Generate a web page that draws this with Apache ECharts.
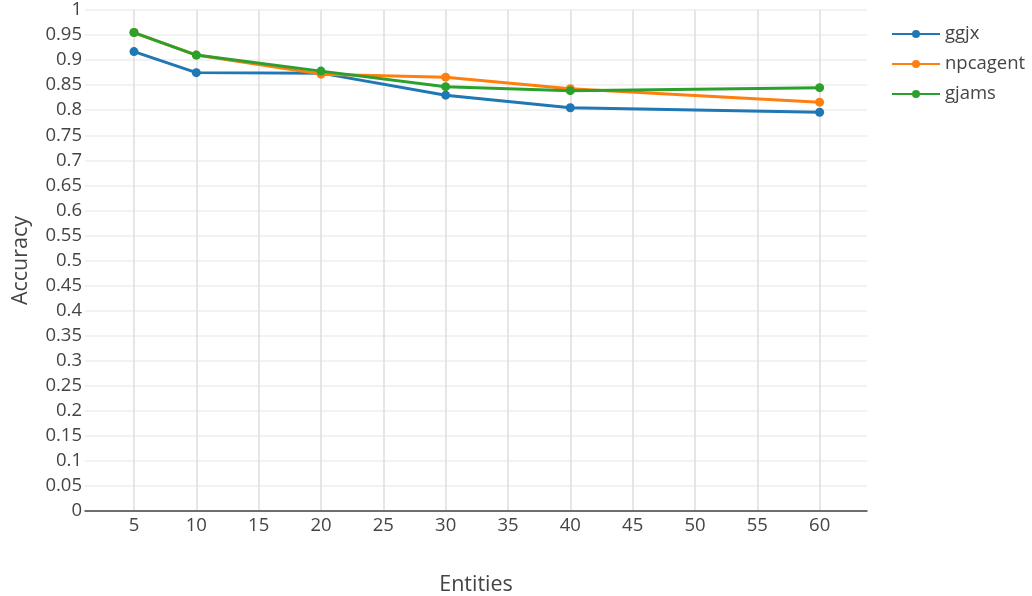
<!DOCTYPE html>
<html><head><meta charset="utf-8">
<script src="https://cdn.jsdelivr.net/npm/echarts@6/dist/echarts.min.js"></script>
<style>html,body{margin:0;padding:0;background:#fff}#c{width:1032px;height:596px}</style>
</head><body><div id="c"></div>
<script>
const entities = [5, 10, 20, 30, 40, 60];
const xTicks = [5, 10, 15, 20, 25, 30, 35, 40, 45, 50, 55, 60];
const ggjx = [0.917, 0.875, 0.874, 0.830, 0.805, 0.796];
const npcagent = [0.955, 0.910, 0.872, 0.866, 0.843, 0.816];
const gjams = [0.955, 0.910, 0.878, 0.847, 0.839, 0.845];
const names = ['ggjx', 'npcagent', 'gjams'];
const colors = ['#1f77b4', '#ff7f0e', '#2ca02c'];
const values = [ggjx, npcagent, gjams];

const font = 'Open Sans';
const chart = echarts.init(document.getElementById('c'), null, {renderer: 'canvas'});
chart.setOption({
  animation: false,
  backgroundColor: '#fff',
  grid: {left: 85, right: 165, top: 10, bottom: 85, containLabel: false, outerBoundsMode: 'none'},
  legend: {
    left: 886, top: 19, orient: 'vertical', itemGap: 10, itemWidth: 48, itemHeight: 10,
    data: names,
    textStyle: {fontFamily: font, fontSize: 18.5, lineHeight: 20, color: '#444'}
  },
  xAxis: {
    type: 'value', min: 1.07, max: 63.8,
    name: 'Entities', nameLocation: 'middle', nameGap: 63,
    nameTextStyle: {fontFamily: font, fontSize: 21.5, color: '#444'},
    axisLine: {show: true, onZero: false, lineStyle: {color: '#444', width: 1.5}},
    axisTick: {show: false, customValues: xTicks},
    axisLabel: {customValues: xTicks, fontFamily: font, fontSize: 18.5, color: '#444', margin: 5},
    splitLine: {show: true, lineStyle: {color: '#dedede', width: 1.5}}
  },
  yAxis: {
    type: 'value', min: 0, max: 1, interval: 0.05,
    name: 'Accuracy', nameLocation: 'middle', nameGap: 53, nameRotate: 90,
    nameTextStyle: {fontFamily: font, fontSize: 21.5, color: '#444'},
    axisLine: {show: false}, axisTick: {show: false},
    axisLabel: {fontFamily: font, fontSize: 18.5, color: '#444', margin: 3,
      formatter: v => String(parseFloat(v.toFixed(2)))},
    splitLine: {show: true, lineStyle: {color: '#eee', width: 1.5}}
  },
  series: names.map((n, i) => ({
    name: n, type: 'line',
    data: entities.map((x, j) => [x, values[i][j]]),
    color: colors[i],
    symbol: 'circle', symbolSize: 9, showSymbol: true,
    lineStyle: {width: 3, color: colors[i]},
    itemStyle: {color: colors[i]},
    z: 2 + i
  }))
});
</script></body></html>
